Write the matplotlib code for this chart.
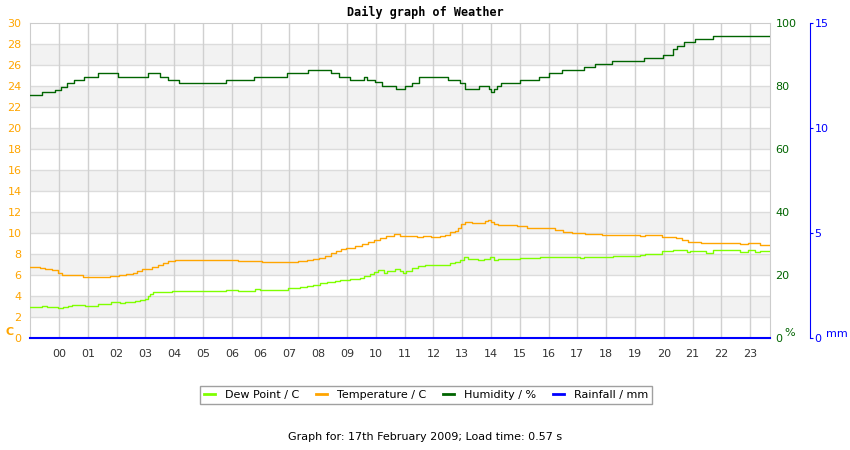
import matplotlib
matplotlib.use("Agg")
import matplotlib.pyplot as plt

# hour labels as printed on the original chart (06 appears twice)
hour_labels = ["00", "01", "02", "03", "04", "05", "06", "06", "07", "08", "09", "10",
               "11", "12", "13", "14", "15", "16", "17", "18", "19", "20", "21", "22", "23"]

# step series: time (in tick units) where each reading starts, and the reading
hum_t = [-1.01, -0.59, -0.14, 0.07, 0.28, 0.52, 0.87, 1.35, 2.05, 3.09, 3.51, 3.78, 4.17,
         5.80, 6.77, 7.92, 8.65, 9.44, 9.72, 10.10, 10.59, 10.69, 10.97, 11.22, 11.70,
         12.01, 12.26, 12.50, 13.51, 13.92, 14.10, 14.58, 14.93, 15.00, 15.10, 15.21,
         15.35, 16.01, 16.67, 17.01, 17.47, 18.23, 18.61, 19.20, 20.31, 20.97, 21.32,
         21.46, 21.70, 22.08, 22.71, 24.69]
humidity = [77.0, 78.1, 78.7, 79.8, 80.8, 81.8, 83.0, 84.1, 83.0, 84.1, 83.0, 81.8, 81.0,
            81.8, 83.0, 84.1, 85.0, 84.0, 83.0, 81.8, 83.0, 81.8, 81.2, 80.0, 78.9,
            80.0, 80.8, 83.0, 81.8, 80.8, 78.9, 80.0, 78.9, 78.0, 78.9, 80.0,
            80.8, 81.8, 83.0, 84.0, 85.0, 85.9, 86.9, 87.8, 88.8, 90.0, 91.6,
            92.6, 93.9, 94.8, 95.8, 95.8]

temp_t = [-1.01, -0.66, -0.49, -0.24, -0.03, 0.10, 0.83, 1.08, 1.77, 2.08, 2.33, 2.57,
          2.71, 2.88, 3.23, 3.44, 3.61, 3.78, 4.03, 6.22, 7.05, 8.30, 8.61, 8.82, 9.03,
          9.24, 9.44, 9.62, 9.79, 9.97, 10.28, 10.52, 10.73, 10.94, 11.15, 11.35, 11.63,
          11.84, 12.05, 12.43, 12.64, 12.92, 13.23, 13.40, 13.58, 13.75, 13.85, 13.96,
          14.10, 14.34, 14.79, 14.90, 15.00, 15.10, 15.24, 15.90, 16.25, 17.22, 17.50,
          17.81, 18.26, 18.85, 20.17, 20.35, 20.94, 21.42, 21.63, 21.84, 22.29, 23.65,
          23.92, 24.34, 24.69]
temperature = [6.73, 6.63, 6.54, 6.45, 6.16, 5.97, 5.84, 5.78, 5.87, 5.97, 6.06, 6.19,
               6.38, 6.54, 6.73, 6.95, 7.14, 7.30, 7.39, 7.33, 7.24, 7.30, 7.39, 7.49, 7.65,
               7.84, 8.06, 8.32, 8.51, 8.60, 8.76, 8.95, 9.14, 9.33, 9.55, 9.74, 9.87,
               9.74, 9.68, 9.59, 9.68, 9.59, 9.68, 9.81, 10.06, 10.22, 10.48, 10.86,
               11.05, 10.95, 11.11, 11.21, 11.02, 10.86, 10.73, 10.64, 10.48, 10.25, 10.13,
               10.03, 9.90, 9.81, 9.71, 9.81, 9.65, 9.49, 9.30, 9.17, 9.02, 8.92,
               9.02, 8.89, 8.89]

dew_t = [-1.01, -0.59, -0.42, -0.03, 0.14, 0.31, 0.45, 0.90, 1.35, 1.81, 2.12, 2.29,
         2.64, 2.81, 2.99, 3.09, 3.16, 3.26, 3.51, 3.75, 3.92, 4.10, 5.80, 6.22, 6.81,
         6.98, 7.95, 8.37, 8.61, 8.82, 9.06, 9.31, 9.58, 9.76, 10.10, 10.45, 10.59,
         10.80, 10.94, 11.08, 11.28, 11.39, 11.67, 11.84, 11.94, 12.05, 12.26, 12.47,
         12.71, 13.58, 13.75, 13.92, 14.06, 14.20, 14.55, 14.76, 14.97, 15.10, 15.24,
         16.01, 16.70, 17.01, 17.29, 18.09, 18.23, 19.24, 20.17, 20.35, 20.94, 21.32,
         21.81, 21.91, 22.47, 22.71, 23.65, 23.92, 24.17, 24.34, 24.69]
dew_point = [2.92, 3.02, 2.92, 2.83, 2.92, 3.05, 3.17, 3.08, 3.27, 3.40, 3.30, 3.40,
             3.49, 3.62, 3.71, 4.00, 4.19, 4.38, 4.41, 4.38, 4.51, 4.44, 4.54, 4.48, 4.63,
             4.57, 4.73, 4.83, 4.95, 5.08, 5.21, 5.33, 5.46, 5.56, 5.65, 5.71, 5.90,
             6.10, 6.32, 6.48, 6.22, 6.41, 6.54, 6.41, 6.16, 6.41, 6.67, 6.86,
             6.95, 7.11, 7.24, 7.43, 7.68, 7.56, 7.43, 7.56, 7.71, 7.43, 7.56,
             7.59, 7.68, 7.75, 7.68, 7.59, 7.68, 7.84, 7.90, 8.03, 8.25, 8.38,
             8.19, 8.32, 8.13, 8.38, 8.19, 8.38, 8.19, 8.32, 8.32]

rain_t = [-1.01, 24.69]
rainfall = [0.0, 0.0]

DEW = "#7fff00"
TEMP = "#ffa500"
HUM = "#006400"
RAIN = "#0000ff"

fig = plt.figure(figsize=(8.5, 4.5), dpi=100)
ax = fig.add_axes([30 / 850, 112 / 450, 740 / 850, 315 / 450])

# alternating background bands
for lo in range(2, 30, 4):
    ax.axhspan(lo, lo + 2, color="#f2f2f2", zorder=0, lw=0)
for y in range(2, 30, 2):
    ax.axhline(y, color="#dcdcdc", lw=1, zorder=1)
for i in range(len(hour_labels)):
    ax.axvline(i, color="#d0d0d0", lw=1, zorder=1)

l_dew, = ax.plot(dew_t, dew_point, drawstyle="steps-post", color=DEW, lw=1.0, zorder=3)
l_temp, = ax.plot(temp_t, temperature, drawstyle="steps-post", color=TEMP, lw=1.0, zorder=3)
ax.set_xlim(-1.01, 24.69)
ax.set_ylim(0, 30)
ax.set_yticks(range(0, 31, 2))
ax.set_xticks(range(len(hour_labels)))
ax.set_xticklabels(hour_labels)
ax.tick_params(axis="y", length=0, pad=6, colors=TEMP, labelsize=8)
ax.tick_params(axis="x", length=0, pad=8, labelcolor="#333333", labelsize=8)
for s in ax.spines.values():
    s.set_color("#cccccc")

ax2 = ax.twinx()
l_hum, = ax2.plot(hum_t, humidity, drawstyle="steps-post", color=HUM, lw=1.0)
ax2.set_ylim(0, 100)
ax2.set_yticks(range(0, 101, 20))
ax2.tick_params(axis="y", length=0, pad=4, colors=HUM, labelsize=8)
for s in ax2.spines.values():
    s.set_visible(False)

ax3 = ax.twinx()
l_rain, = ax3.plot(rain_t, rainfall, color=RAIN, lw=1.5, clip_on=False)
ax3.set_ylim(0, 15)
ax3.set_yticks([0, 5, 10, 15])
ax3.spines["right"].set_position(("outward", 29))
ax3.spines["right"].set_color(RAIN)
for k in ("left", "top", "bottom"):
    ax3.spines[k].set_visible(False)
ax3.tick_params(axis="y", length=2, pad=1, colors=RAIN, labelsize=8)

fig.text(5 / 850, 1 - 332 / 450, "C", color=TEMP, fontsize=8, fontweight="bold", va="center")
fig.text(784 / 850, 1 - 333 / 450, "%", color=HUM, fontsize=8, va="center")
fig.text(826 / 850, 1 - 334 / 450, "mm", color=RAIN, fontsize=8, va="center")

fig.text(0.5, 1 - 12 / 450, "Daily graph of Weather", ha="center", va="center",
         family="DejaVu Sans Mono", fontweight="bold", fontsize=8.5)

leg = fig.legend([l_dew, l_temp, l_hum, l_rain],
                 ["Dew Point / C", "Temperature / C", "Humidity / %", "Rainfall / mm"],
                 loc="center", bbox_to_anchor=(426 / 850, 1 - 395 / 450), ncol=4,
                 fontsize=8, handlelength=1.0, fancybox=False, edgecolor="#888888",
                 borderpad=0.35, columnspacing=1.5, handletextpad=0.9)
leg.get_frame().set_linewidth(1)
for h in leg.get_lines():
    h.set_linewidth(2)

fig.text(0.5, 1 - 437 / 450, "Graph for: 17th February 2009; Load time: 0.57 s",
         ha="center", va="center", fontsize=8)

fig.savefig("out.png", dpi=100)
